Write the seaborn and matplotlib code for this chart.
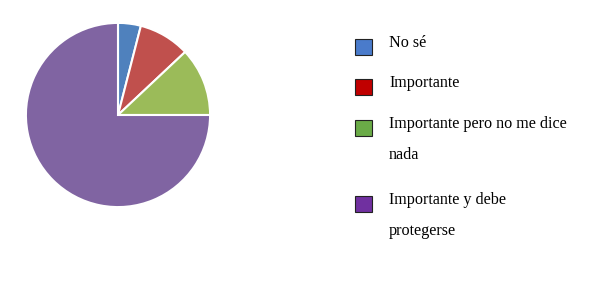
import matplotlib
matplotlib.use("Agg")
import matplotlib.pyplot as plt
from matplotlib.patches import Rectangle
import seaborn as sns

categories = ["No sé", "Importante", "Importante pero no me dice nada", "Importante y debe protegerse"]
legend_lines = [["No sé"], ["Importante"], ["Importante pero no me dice", "nada"], ["Importante y debe", "protegerse"]]
values = [4, 9, 12, 75]
slice_colors = ["#4F81BD", "#C0504D", "#9BBB59", "#8064A2"]
legend_colors = ["#4A7BCB", "#C00000", "#6AAB47", "#7030A0"]

sns.set_theme(style="white")
plt.rcParams['font.family'] = ['Liberation Serif', 'DejaVu Serif']

W, H = 613, 292
fig = plt.figure(figsize=(W / 100, H / 100), dpi=100)
fig.patch.set_facecolor("white")

cx, cy, r = 118, 115, 93
ax = fig.add_axes([(cx - r) / W, (H - cy - r) / H, 2 * r / W, 2 * r / H])
ax.pie(values, colors=slice_colors, startangle=90, counterclock=False,
       wedgeprops=dict(edgecolor="white", linewidth=1.5))
ax.set_xlim(-1.01, 1.01)
ax.set_ylim(-1.01, 1.01)
ax.set_aspect("equal")
ax.axis("off")

baselines = [46.7, 86.7, 128.3, 204.3]
line_gap = 31
for lines, col, yb in zip(legend_lines, legend_colors, baselines):
    fig.patches.append(Rectangle((355 / W, (H - yb - 8) / H), 17 / W, 16 / H,
                                 transform=fig.transFigure, facecolor=col,
                                 edgecolor="#222222", linewidth=0.8))
    for i, ln in enumerate(lines):
        fig.text(389 / W, (H - yb - i * line_gap) / H, ln, fontsize=11.6,
                 color="black", va="baseline", ha="left")

fig.savefig("out.png", dpi=100, facecolor="white")
